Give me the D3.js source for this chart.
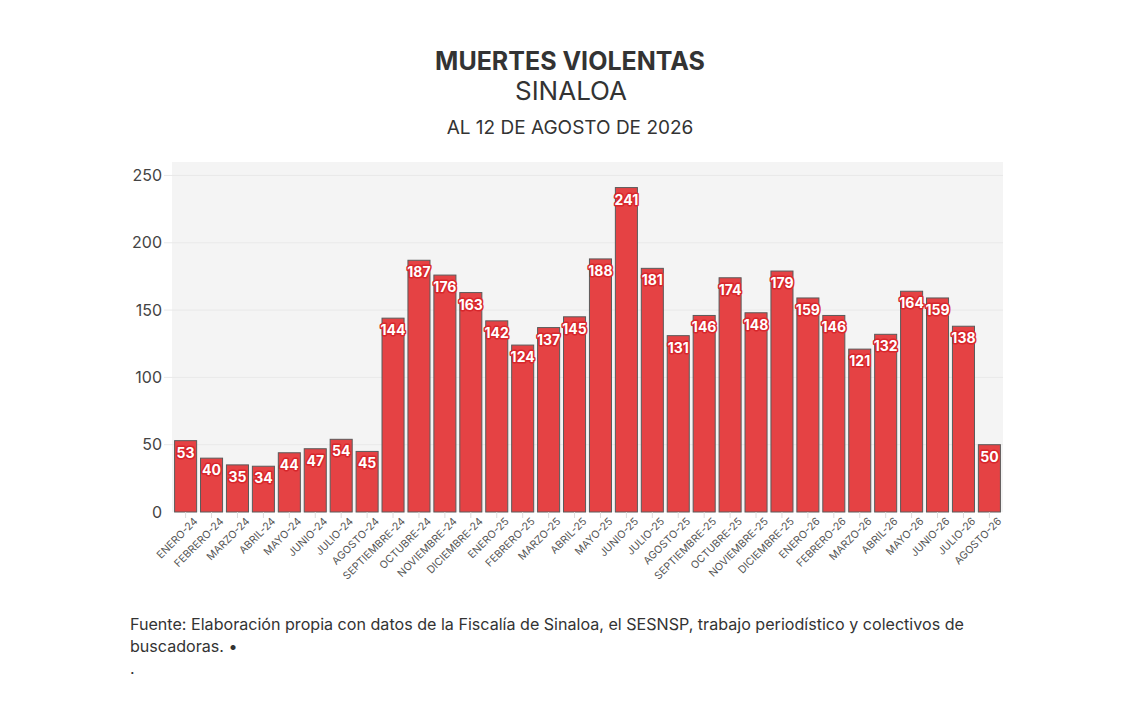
<!DOCTYPE html>
<html>
<head>
<meta charset="utf-8">
<script src="https://cdn.jsdelivr.net/npm/d3@7"></script>
<style>
  body { margin: 0; background: #fff; }
  svg { display: block; font-family: "Inter", "Open Sans", sans-serif; }
</style>
</head>
<body>
<svg id="chart"></svg>
<script>
// data
var months = ["ENERO-24", "FEBRERO-24", "MARZO-24", "ABRIL-24", "MAYO-24", "JUNIO-24", "JULIO-24", "AGOSTO-24",
  "SEPTIEMBRE-24", "OCTUBRE-24", "NOVIEMBRE-24", "DICIEMBRE-24",
  "ENERO-25", "FEBRERO-25", "MARZO-25", "ABRIL-25", "MAYO-25", "JUNIO-25", "JULIO-25", "AGOSTO-25",
  "SEPTIEMBRE-25", "OCTUBRE-25", "NOVIEMBRE-25", "DICIEMBRE-25",
  "ENERO-26", "FEBRERO-26", "MARZO-26", "ABRIL-26", "MAYO-26", "JUNIO-26", "JULIO-26", "AGOSTO-26"];
var deaths = [53, 40, 35, 34, 44, 47, 54, 45,
  144, 187, 176, 163,
  142, 124, 137, 145, 188, 241, 181, 131,
  146, 174, 148, 179,
  159, 146, 121, 132, 164, 159, 138, 50];
var yTicks = [0, 50, 100, 150, 200, 250];

var width = 1140, height = 720;
var plotLeft = 172, plotRight = 1003, plotTop = 162, plotBottom = 512;

var svg = d3.select("#chart").attr("width", width).attr("height", height);

// titles
svg.append("text").attr("x", 570).attr("y", 70).attr("text-anchor", "middle")
  .style("font-size", "25px").style("font-weight", "700").style("fill", "#333")
  .text("MUERTES VIOLENTAS");
svg.append("text").attr("x", 571).attr("y", 100).attr("text-anchor", "middle")
  .style("font-size", "26px").style("fill", "#333")
  .text("SINALOA");
svg.append("text").attr("x", 570).attr("y", 134).attr("text-anchor", "middle")
  .style("font-size", "19px").style("fill", "#333")
  .text("AL 12 DE AGOSTO DE 2026");

var x = d3.scaleBand().domain(months).range([plotLeft, plotRight]).paddingInner(0.15).paddingOuter(0.1);
var y = d3.scaleLinear().domain([0, 260]).range([plotBottom, plotTop]);

// plot background
svg.append("rect").attr("x", plotLeft).attr("y", plotTop)
  .attr("width", plotRight - plotLeft).attr("height", plotBottom - plotTop)
  .style("fill", "#f4f4f4");

// grid lines
svg.append("g").selectAll("line").data(yTicks.slice(1)).join("line")
  .attr("x1", plotLeft - 8).attr("x2", plotRight)
  .attr("y1", d => y(d)).attr("y2", d => y(d))
  .style("stroke", "#e9e9e9").style("stroke-width", 1);

// y axis
var yAxis = svg.append("g").attr("transform", "translate(" + (plotLeft - 10) + ",0)")
  .call(d3.axisLeft(y).tickValues(yTicks).tickSize(0).tickPadding(0));
yAxis.select(".domain").remove();
yAxis.selectAll("text").style("font-size", "16px").style("fill", "#444")
  .style("font-family", "Inter, sans-serif");

// bars
svg.append("g").selectAll("rect").data(deaths).join("rect")
  .attr("x", (d, i) => x(months[i]))
  .attr("y", d => y(d))
  .attr("width", x.bandwidth())
  .attr("height", d => y(0) - y(d))
  .style("fill", "#e54244")
  .style("stroke", "#5a5a5a")
  .style("stroke-width", 1);

// x axis
var xAxis = svg.append("g").attr("transform", "translate(0," + plotBottom + ")")
  .call(d3.axisBottom(x).tickSize(6).tickPadding(4));
xAxis.select(".domain").remove();
xAxis.selectAll("line").style("stroke", "#ddd");
xAxis.selectAll("text")
  .attr("text-anchor", "end")
  .attr("dx", "2px").attr("dy", "6px")
  .attr("transform", "rotate(-45)")
  .style("font-size", "10.5px").style("fill", "#555")
  .style("font-family", "Inter, sans-serif");

// value labels
svg.append("g").selectAll("text").data(deaths).join("text")
  .attr("x", (d, i) => x(months[i]) + x.bandwidth() / 2)
  .attr("y", d => y(d) + 17)
  .attr("text-anchor", "middle")
  .style("font-size", "14px").style("font-weight", "700")
  .style("fill", "#fff")
  .style("stroke", "#d8262b").style("stroke-width", 3)
  .style("paint-order", "stroke")
  .style("stroke-linejoin", "round")
  .text(d => d);

// source note
var note = svg.append("text").style("font-size", "16.1px").style("fill", "#333");
note.append("tspan").attr("x", 130).attr("y", 630)
  .text("Fuente: Elaboración propia con datos de la Fiscalía de Sinaloa, el SESNSP, trabajo periodístico y colectivos de");
note.append("tspan").attr("x", 130).attr("y", 652).text("buscadoras. •");
note.append("tspan").attr("x", 130).attr("y", 674).text(".");
</script>
</body>
</html>
